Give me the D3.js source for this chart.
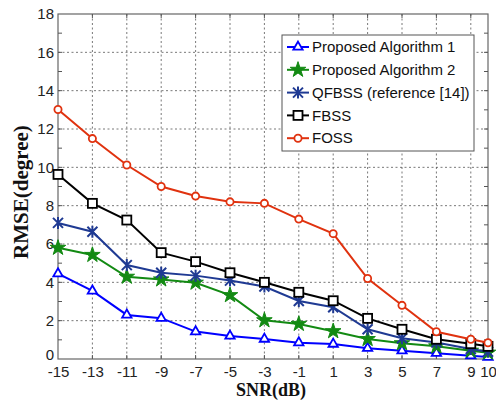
<!DOCTYPE html>
<html><head><meta charset="utf-8">
<script src="https://cdnjs.cloudflare.com/ajax/libs/d3/7.8.5/d3.min.js"></script>
<style>body{margin:0;background:#fff}svg{display:block}</style>
</head><body><svg id="c" width="496" height="403"></svg>
<script>
const snr = [-15,-13,-11,-9,-7,-5,-3,-1,1,3,5,7,9,10];
const xTicks = [-15,-13,-11,-9,-7,-5,-3,-1,1,3,5,7,9,10];
const yTicks = [0,2,4,6,8,10,12,14,16,18];
const pa1 = [4.45,3.55,2.3,2.13,1.43,1.2,1.04,0.85,0.78,0.56,0.43,0.3,0.17,0.1];
const pa2 = [5.8,5.43,4.29,4.15,3.98,3.33,2.02,1.83,1.45,1.04,0.82,0.66,0.43,0.33];
const qfbss = [7.1,6.64,4.9,4.5,4.35,4.09,3.78,3.03,2.7,1.55,1.08,0.86,0.52,0.38];
const fbss = [9.63,8.12,7.25,5.55,5.08,4.5,4.0,3.48,3.04,2.12,1.55,1.03,0.8,0.66];
const foss = [13.02,11.5,10.12,9.0,8.5,8.2,8.12,7.3,6.54,4.2,2.8,1.42,1.03,0.85];
const names = ["Proposed Algorithm 1","Proposed Algorithm 2","QFBSS (reference [14])","FBSS","FOSS"];

const series = [
  {name:names[0], v:pa1, color:"#0000ff", m:"tri"},
  {name:names[1], v:pa2, color:"#138a13", m:"star"},
  {name:names[2], v:qfbss, color:"#1f3a93", m:"x"},
  {name:names[3], v:fbss, color:"#000000", m:"sq"},
  {name:names[4], v:foss, color:"#e0320f", m:"circ"}
];

const svg = d3.select("#c");
const L=58, R=488, T=14, B=359;
const x = d3.scaleLinear().domain([-15,10]).range([L,R]);
const y = d3.scaleLinear().domain([0,18]).range([B,T]);
const fmt = d => String(d);

// gridlines
const g = svg.append("g");
g.selectAll("line.gx").data(xTicks.filter(d=>d>-15&&d<10)).enter().append("line")
  .attr("x1",d=>x(d)).attr("x2",d=>x(d)).attr("y1",T).attr("y2",B)
  .attr("stroke","#555").attr("stroke-width",0.8).attr("stroke-dasharray","2,2.5");
g.selectAll("line.gy").data(yTicks.filter(d=>d>0&&d<18)).enter().append("line")
  .attr("x1",L).attr("x2",R).attr("y1",d=>y(d)).attr("y2",d=>y(d))
  .attr("stroke","#555").attr("stroke-width",0.8).attr("stroke-dasharray","2,2.5");

// frame
svg.append("rect").attr("x",L).attr("y",T).attr("width",R-L).attr("height",B-T)
  .attr("fill","none").attr("stroke","#666").attr("stroke-width",1.2);

// axes
const ax = d3.axisBottom(x).tickValues(xTicks).tickSize(0).tickPadding(7).tickFormat(fmt);
const ay = d3.axisLeft(y).tickValues(yTicks).tickSize(0).tickPadding(4).tickFormat(fmt);
const gx = svg.append("g").attr("transform",`translate(0,${B})`).call(ax);
const gy = svg.append("g").attr("transform",`translate(${L},0)`).call(ay);
[gx,gy].forEach(a=>{a.select(".domain").remove();
  a.selectAll("text").attr("font-family","Liberation Sans, Arial, sans-serif").attr("font-size",15).attr("fill","#222");});
gx.selectAll("text").attr("dy","0.75em");
gy.selectAll("text").attr("dy",d=>d===0?"0.05em":"0.32em");

// small ticks on frame
const minorY = d3.range(1,18);
svg.append("g").selectAll("line").data(minorY).enter().append("line")
  .attr("x1",L).attr("x2",L+4).attr("y1",d=>y(d)).attr("y2",d=>y(d)).attr("stroke","#555");
svg.append("g").selectAll("line").data(minorY).enter().append("line")
  .attr("x1",R).attr("x2",R-4).attr("y1",d=>y(d)).attr("y2",d=>y(d)).attr("stroke","#555");
svg.append("g").selectAll("line").data(xTicks.filter(d=>d>-15&&d<10)).enter().append("line")
  .attr("x1",d=>x(d)).attr("x2",d=>x(d)).attr("y1",T).attr("y2",T+4).attr("stroke","#555");
svg.append("g").selectAll("line").data(xTicks.filter(d=>d>-15&&d<10)).enter().append("line")
  .attr("x1",d=>x(d)).attr("x2",d=>x(d)).attr("y1",B).attr("y2",B-4).attr("stroke","#555");

function marker(sel, type, color){
  if(type==="tri") sel.append("path").attr("d",d3.symbol(d3.symbolTriangle,38)()).attr("fill","#fff").attr("stroke",color).attr("stroke-width",1.8);
  else if(type==="star") sel.append("path").attr("d",d3.symbol(d3.symbolStar,75)()).attr("fill",color).attr("stroke",color).attr("stroke-width",1);
  else if(type==="x") sel.append("path").attr("d","M-5,-5L5,5M-5,5L5,-5M0,-6L0,6").attr("fill","none").attr("stroke",color).attr("stroke-width",2);
  else if(type==="sq") sel.append("rect").attr("x",-4.5).attr("y",-4.5).attr("width",9).attr("height",9).attr("fill","#fff").attr("stroke",color).attr("stroke-width",1.8);
  else if(type==="circ") sel.append("circle").attr("r",3.6).attr("fill","#fff").attr("stroke",color).attr("stroke-width",1.8);
}

const line = d3.line().x((d,i)=>x(snr[i])).y(d=>y(d));
series.forEach(s=>{
  svg.append("path").datum(s.v).attr("d",line).attr("fill","none").attr("stroke",s.color).attr("stroke-width",2);
  s.v.forEach((v,i)=>{
    const m = svg.append("g").attr("transform",`translate(${x(snr[i])},${y(v)})`);
    marker(m, s.m, s.color);
  });
});

// legend
const lg = svg.append("g");
lg.append("rect").attr("x",282).attr("y",35).attr("width",192).attr("height",116)
  .attr("fill","#fff").attr("stroke","#555").attr("stroke-width",1);
series.forEach((s,i)=>{
  const yy = 47 + i*22.8;
  lg.append("line").attr("x1",287).attr("x2",309).attr("y1",yy).attr("y2",yy).attr("stroke",s.color).attr("stroke-width",2);
  const m = lg.append("g").attr("transform",`translate(298,${yy})`);
  marker(m, s.m, s.color);
  lg.append("text").attr("x",312).attr("y",yy).attr("dy","0.35em").text(s.name)
    .attr("font-family","Liberation Sans, Arial, sans-serif").attr("font-size",15).attr("fill","#111");
});

// axis titles
svg.append("text").attr("x",271).attr("y",396).attr("text-anchor","middle").text("SNR(dB)")
  .attr("font-family","Liberation Serif, Times New Roman, serif").attr("font-weight","bold").attr("font-size",18).attr("fill","#111");
svg.append("text").attr("transform","translate(28,192) rotate(-90)").attr("text-anchor","middle").text("RMSE(degree)")
  .attr("font-family","Liberation Serif, Times New Roman, serif").attr("font-weight","bold").attr("font-size",21).attr("fill","#111");
</script></body></html>
